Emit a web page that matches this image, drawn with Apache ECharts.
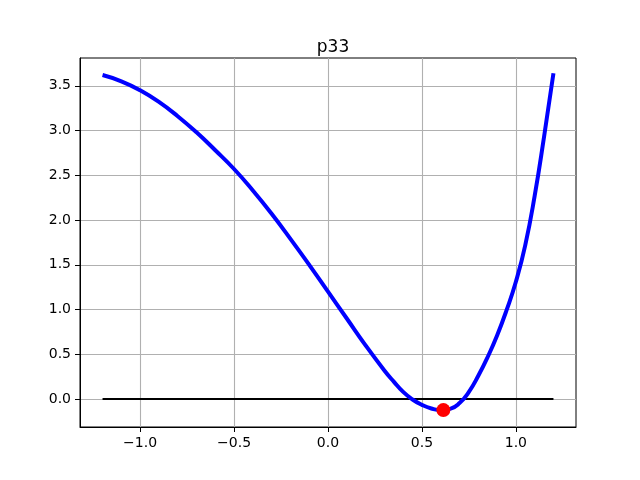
<!DOCTYPE html>
<html>
<head>
<meta charset="utf-8">
<script src="https://cdn.jsdelivr.net/npm/echarts@6/dist/echarts.min.js"></script>
<style>
html, body { margin: 0; padding: 0; background: #fff; }
#main { width: 640px; height: 480px; }
</style>
</head>
<body>
<div id="main"></div>
<script>
// values
const xs = [-1.2, -1.1, -1.0, -0.9, -0.8, -0.7, -0.6, -0.5, -0.4, -0.3, -0.2, -0.1, 0.0, 0.1, 0.2, 0.3, 0.35, 0.4, 0.45, 0.5, 0.55, 0.6, 0.65, 0.7, 0.75, 0.8, 0.85, 0.9, 0.95, 1.0, 1.05, 1.1, 1.15, 1.2];
const ys = [3.62, 3.55, 3.45, 3.32, 3.16, 2.98, 2.78, 2.57, 2.33, 2.07, 1.79, 1.50, 1.20, 0.90, 0.60, 0.32, 0.195, 0.08, -0.005, -0.065, -0.105, -0.123, -0.11, -0.045, 0.08, 0.26, 0.47, 0.71, 0.99, 1.31, 1.72, 2.27, 2.93, 3.64];
const zeroLine = [[-1.2, 0], [1.2, 0]];
const minPoint = [0.614, -0.123];
const xTicks = [-1.0, -0.5, 0.0, 0.5, 1.0];
const yTicks = [0.0, 0.5, 1.0, 1.5, 2.0, 2.5, 3.0, 3.5];

const fmt = v => v.toFixed(1).replace('-', '\u2212');
const font = 'DejaVu Sans';

const chart = echarts.init(document.getElementById('main'));
chart.setOption({
    animation: false,
    title: {
        text: 'p33',
        left: 328,
        textAlign: 'center',
        top: 34,
        textStyle: { fontFamily: font, fontSize: 17, fontWeight: 'normal', color: '#000' }
    },
    grid: {
        left: 80, top: 58, right: 64, bottom: 53,
        show: true, borderColor: '#000', borderWidth: 1, backgroundColor: 'transparent'
    },
    xAxis: {
        type: 'value', min: -1.32, max: 1.32,
        axisLine: { show: true, onZero: false, lineStyle: { color: '#000', width: 1 } },
        axisTick: { show: true, inside: false, length: 5, customValues: xTicks, lineStyle: { color: '#000' } },
        axisLabel: { customValues: xTicks, formatter: fmt, margin: 9, fontFamily: font, fontSize: 14, color: '#000' },
        splitLine: { show: true, lineStyle: { color: '#b0b0b0', width: 1.1 } }
    },
    yAxis: {
        type: 'value', min: -0.312, max: 3.81,
        axisLine: { show: true, onZero: false, lineStyle: { color: '#000', width: 1 } },
        axisTick: { show: true, inside: false, length: 5, customValues: yTicks, lineStyle: { color: '#000' } },
        axisLabel: { customValues: yTicks, formatter: fmt, margin: 9, fontFamily: font, fontSize: 14, color: '#000' },
        splitLine: { show: true, lineStyle: { color: '#b0b0b0', width: 1.1 } }
    },
    series: [
        {
            type: 'line',
            data: xs.map((x, i) => [x, ys[i]]),
            smooth: 0.5,
            showSymbol: false,
            lineStyle: { color: '#0000ff', width: 4 },
            z: 3
        },
        {
            type: 'line',
            data: zeroLine,
            showSymbol: false,
            lineStyle: { color: '#000', width: 2 },
            z: 2
        },
        {
            type: 'scatter',
            data: [minPoint],
            symbolSize: 14,
            itemStyle: { color: '#ff0000', opacity: 1 },
            z: 4
        }
    ]
});
</script>
</body>
</html>
